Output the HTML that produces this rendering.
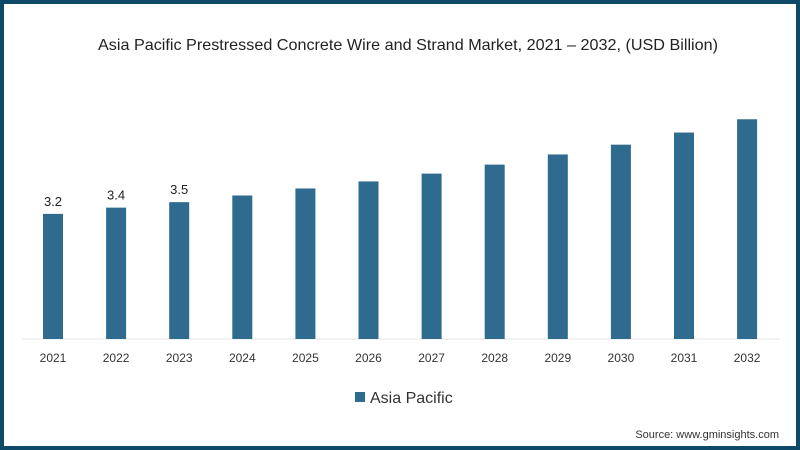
<!DOCTYPE html>
<html><head><meta charset="utf-8"><style>
html,body{margin:0;padding:0;background:#fff}
#wrap{position:relative;width:800px;height:450px;box-sizing:border-box;border:4px solid #0e4a67;background:#fff;font-family:"Liberation Sans",sans-serif;overflow:hidden}
svg{position:absolute;left:-4px;top:-4px}
</style></head><body>
<div id="wrap">
<svg id="chart" width="800" height="450">
<text x="408" y="50" text-anchor="middle" font-size="16" textLength="620" lengthAdjust="spacingAndGlyphs" fill="#222">Asia Pacific Prestressed Concrete Wire and Strand Market, 2021 – 2032, (USD Billion)</text>
<line x1="22" y1="339" x2="780" y2="339" stroke="#e4e4e4" stroke-width="1"/>
<rect x="355" y="392" width="10" height="10" fill="#2e6b8e"/>
<text x="370" y="403" font-size="16" fill="#333">Asia Pacific</text>
<text x="779" y="438" text-anchor="end" font-size="11" fill="#333">Source: www.gminsights.com</text>
</svg>
</div>
<script>
const categories=["2021","2022","2023","2024","2025","2026","2027","2028","2029","2030","2031","2032"];
const values=[3.2,3.36,3.5,3.67,3.85,4.03,4.23,4.46,4.72,4.97,5.28,5.62];
const labels=["3.2","3.4","3.5","","","","","","","","",""];
const svg=document.getElementById('chart');
const NS="http://www.w3.org/2000/svg";
const base=339, perUnit=39.1;
function xc(i){return 53+i*63.1;}
function yv(v){return base-v*perUnit;}
categories.forEach((c,i)=>{
  const r=document.createElementNS(NS,'rect');
  r.setAttribute('x',xc(i)-10);r.setAttribute('y',yv(values[i]));
  r.setAttribute('width',20);r.setAttribute('height',base-yv(values[i]));
  r.setAttribute('fill','#2e6b8e');
  
  
  svg.appendChild(r);
  const t=document.createElementNS(NS,'text');
  t.setAttribute('x',xc(i));t.setAttribute('y',362);t.setAttribute('text-anchor','middle');
  t.setAttribute('font-size','12');t.setAttribute('fill','#333');t.textContent=c;
  
  
  svg.appendChild(t);
  if(labels[i]){
    const l=document.createElementNS(NS,'text');
    l.setAttribute('x',xc(i));l.setAttribute('y',yv(values[i])-8);l.setAttribute('text-anchor','middle');
    l.setAttribute('font-size','13');l.setAttribute('fill','#222');l.textContent=labels[i];
    
    
    svg.appendChild(l);
  }
});
</script>
</body></html>
